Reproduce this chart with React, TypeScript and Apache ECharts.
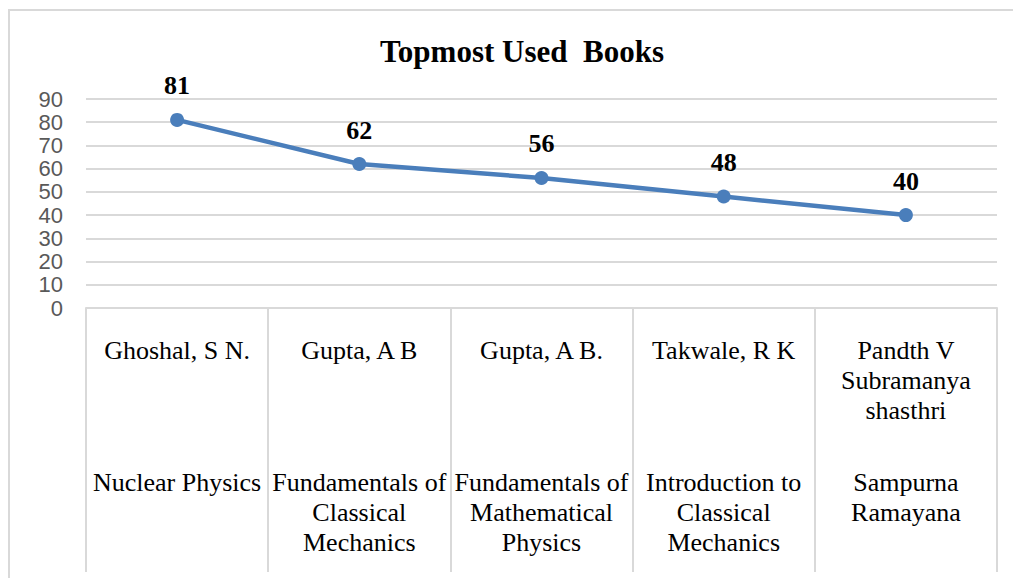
import React, { useEffect, useRef } from "react";
import * as echarts from "echarts";

const authors = ["Ghoshal, S N.", "Gupta, A B", "Gupta, A B.", "Takwale, R K", "Pandth V\nSubramanya\nshasthri"];
const titles = [
  "Nuclear Physics",
  "Fundamentals of\nClassical\nMechanics",
  "Fundamentals of\nMathematical\nPhysics",
  "Introduction to\nClassical\nMechanics",
  "Sampurna\nRamayana",
];
const usage = [81, 62, 56, 48, 40];
const yTicks = [0, 10, 20, 30, 40, 50, 60, 70, 80, 90];

export default function App() {
  const ref = useRef<HTMLDivElement>(null);
  useEffect(() => {
    if (!ref.current) return;
    const chart = echarts.init(ref.current, null, { renderer: "svg" });
    const serif = "'Liberation Serif', 'Times New Roman', serif";
    const sans = "'Liberation Sans', Arial, sans-serif";
    chart.setOption({
      animation: false,
      backgroundColor: "#ffffff",
      title: {
        text: "Topmost Used  Books",
        left: 517,
        textAlign: "center",
        top: 31,
        textStyle: { fontFamily: serif, fontWeight: "bold", fontSize: 31, color: "#000000" },
      },
      graphic: [
        {
          type: "rect",
          shape: { x: 9, y: 10, width: 1030, height: 600 },
          style: { fill: "none", stroke: "#d9d9d9", lineWidth: 2 },
          silent: true,
        },
      ],
      grid: { left: 86, right: 16, top: 99, bottom: 270, containLabel: false },
      xAxis: [
        {
          type: "category",
          data: authors,
          boundaryGap: true,
          axisLine: { show: true, lineStyle: { color: "#d9d9d9", width: 2 } },
          axisTick: { show: true, length: 264, interval: 0, lineStyle: { color: "#d9d9d9", width: 2 } },
          axisLabel: {
            interval: 0,
            margin: 27,
            fontFamily: serif,
            fontSize: 26,
            lineHeight: 30,
            color: "#000000",
            align: "center",
          },
          splitLine: { show: false },
        },
        {
          type: "category",
          data: titles,
          position: "bottom",
          boundaryGap: true,
          axisLine: { show: false },
          axisTick: { show: false },
          axisLabel: {
            interval: 0,
            margin: 159,
            fontFamily: serif,
            fontSize: 26,
            lineHeight: 30,
            color: "#000000",
            align: "center",
          },
          splitLine: { show: false },
        },
      ],
      yAxis: {
        type: "value",
        min: yTicks[0],
        max: yTicks[yTicks.length - 1],
        interval: 10,
        axisLine: { show: false },
        axisTick: { show: false },
        axisLabel: { margin: 23, fontFamily: sans, fontSize: 22, color: "#595959" },
        splitLine: { show: true, lineStyle: { color: "#d9d9d9", width: 2 } },
      },
      series: [
        {
          type: "line",
          data: usage,
          xAxisIndex: 0,
          symbol: "circle",
          symbolSize: 14,
          itemStyle: { color: "#4a7ebb" },
          lineStyle: { color: "#4a7ebb", width: 4.5 },
          label: {
            show: true,
            position: "top",
            distance: 14,
            fontFamily: serif,
            fontWeight: "bold",
            fontSize: 26,
            color: "#000000",
          },
        },
      ],
    });
    return () => chart.dispose();
  }, []);
  return (
    <div
      ref={ref}
      style={{ position: "fixed", left: 0, top: 0, width: 1013, height: 578 }}
    />
  );
}
